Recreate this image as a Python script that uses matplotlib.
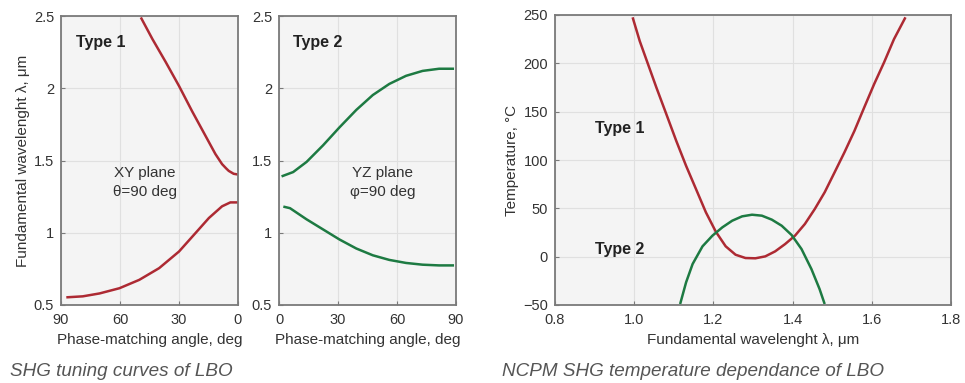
import matplotlib
matplotlib.use("Agg")
import matplotlib.pyplot as plt

plt.rcParams['font.family'] = ['Liberation Sans', 'DejaVu Sans']

# ---- Panel 1: Type 1, XY plane (angle in deg, wavelength in um)
t1_upper_deg = [49.4, 43.5, 36.7, 30.0, 23.3, 16.5, 13.5, 11.5, 8.1, 6.0, 4.7, 2.2, 0.0]
t1_upper_wl = [2.49, 2.34, 2.18, 2.016, 1.84, 1.67, 1.595, 1.545, 1.475, 1.445, 1.428, 1.408, 1.403]
t1_lower_deg = [87.3, 78.9, 70.4, 60.3, 50.2, 40.1, 30.0, 21.6, 14.8, 8.1, 3.9, 0.0]
t1_lower_wl = [0.553, 0.56, 0.58, 0.616, 0.674, 0.755, 0.87, 0.998, 1.102, 1.183, 1.21, 1.21]

# ---- Panel 2: Type 2, YZ plane
t2_upper_deg = [1.3, 7.2, 14.0, 22.4, 30.8, 39.3, 47.7, 56.1, 64.6, 73.0, 81.4, 89.0]
t2_upper_wl = [1.39, 1.42, 1.49, 1.605, 1.73, 1.85, 1.953, 2.03, 2.086, 2.12, 2.135, 2.135]
t2_lower_deg = [2.2, 5.6, 14.0, 22.4, 30.8, 39.3, 47.7, 56.1, 64.6, 73.0, 81.4, 89.0]
t2_lower_wl = [1.181, 1.17, 1.093, 1.023, 0.953, 0.891, 0.844, 0.812, 0.791, 0.779, 0.774, 0.774]

# ---- Panel 3: NCPM temperature vs wavelength
ncpm1_wl = [0.996, 1.014, 1.035, 1.056, 1.081, 1.106, 1.131, 1.156, 1.181, 1.206, 1.231,
            1.256, 1.281, 1.306, 1.331, 1.356, 1.381, 1.406, 1.431, 1.456, 1.481, 1.506,
            1.531, 1.556, 1.581, 1.606, 1.631, 1.656, 1.685]
ncpm1_T = [247.6, 223, 199, 175, 147.6, 120, 94, 70, 45.9, 25.9, 10.7,
           2.0, -1.4, -1.7, 0.3, 5.5, 13, 21.7, 33.8, 49.3, 66.6, 87.2,
           108, 130, 154.5, 178.6, 201, 225, 247.6]
ncpm2_wl = [1.116, 1.131, 1.1475, 1.1725, 1.1975, 1.2225, 1.2475, 1.2725, 1.2975, 1.3225,
            1.3475, 1.3725, 1.3975, 1.4225, 1.4475, 1.468, 1.481]
ncpm2_T = [-49, -26.6, -7.6, 10.7, 21.7, 30.3, 37.2, 41.7, 43.4, 42.4,
           38.3, 32, 22.4, 7.9, -12.8, -33.4, -49]

angle_ticks_1 = [90, 60, 30, 0]
angle_ticks_2 = [0, 30, 60, 90]
wl_ticks = [0.5, 1, 1.5, 2, 2.5]
wl_ticklabels = ['0.5', '1', '1.5', '2', '2.5']
ncpm_xticks = [0.8, 1.0, 1.2, 1.4, 1.6, 1.8]
ncpm_yticks = [-50, 0, 50, 100, 150, 200, 250]

RED = '#ad2a33'
GREEN = '#1d7a42'
BG = '#f4f4f4'
SPINE = '#7a7a7a'
GRID = '#e0e0e0'
TXT = '#333333'

W, H = 965, 383
fig = plt.figure(figsize=(W / 100, H / 100), dpi=100)


def box(l, t, r, b):
    return [l / W, 1 - b / H, (r - l) / W, (b - t) / H]


def style(ax):
    ax.set_facecolor(BG)
    for s in ax.spines.values():
        s.set_color(SPINE)
        s.set_linewidth(1.3)
    ax.tick_params(direction='in', length=3, width=0.8, color=SPINE,
                   labelsize=10.5, labelcolor=TXT)
    ax.tick_params(axis='x', pad=6)
    ax.tick_params(axis='y', pad=5)
    ax.grid(True, color=GRID, linewidth=0.8)
    ax.set_axisbelow(True)


ax1 = fig.add_axes(box(61, 16, 238, 305))
ax2 = fig.add_axes(box(279, 16, 456, 305))
ax3 = fig.add_axes(box(555, 15, 951, 305))
for ax in (ax1, ax2, ax3):
    style(ax)

lw = 1.8
ax1.plot(t1_upper_deg, t1_upper_wl, color=RED, lw=lw, solid_capstyle='butt')
ax1.plot(t1_lower_deg, t1_lower_wl, color=RED, lw=lw, solid_capstyle='butt')
ax1.set_xlim(90, 0)
ax1.set_ylim(0.5, 2.5)
ax1.set_xticks(angle_ticks_1)
ax1.set_yticks(wl_ticks)
ax1.set_yticklabels(wl_ticklabels)
ax1.set_xlabel('Phase-matching angle, deg', fontsize=11, color=TXT, labelpad=4)
ax1.set_ylabel('Fundamental wavelenght λ, μm', fontsize=11, color=TXT, labelpad=3)
ax1.text(0.083, 0.91, 'Type 1', transform=ax1.transAxes, fontsize=11.5,
         fontweight='bold', color='#222222', va='center', ha='left')
ax1.text(0.475, 0.457, 'XY plane', transform=ax1.transAxes, fontsize=11,
         color=TXT, va='center', ha='center')
ax1.text(0.475, 0.39, 'θ=90 deg', transform=ax1.transAxes, fontsize=11,
         color=TXT, va='center', ha='center')

ax2.plot(t2_upper_deg, t2_upper_wl, color=GREEN, lw=lw, solid_capstyle='butt')
ax2.plot(t2_lower_deg, t2_lower_wl, color=GREEN, lw=lw, solid_capstyle='butt')
ax2.set_xlim(0, 90)
ax2.set_ylim(0.5, 2.5)
ax2.set_xticks(angle_ticks_2)
ax2.set_yticks(wl_ticks)
ax2.set_yticklabels(wl_ticklabels)
ax2.set_xlabel('Phase-matching angle, deg', fontsize=11, color=TXT, labelpad=4)
ax2.text(0.079, 0.91, 'Type 2', transform=ax2.transAxes, fontsize=11.5,
         fontweight='bold', color='#222222', va='center', ha='left')
ax2.text(0.584, 0.457, 'YZ plane', transform=ax2.transAxes, fontsize=11,
         color=TXT, va='center', ha='center')
ax2.text(0.584, 0.39, 'φ=90 deg', transform=ax2.transAxes, fontsize=11,
         color=TXT, va='center', ha='center')

ax3.plot(ncpm1_wl, ncpm1_T, color=RED, lw=lw, solid_capstyle='butt')
ax3.plot(ncpm2_wl, ncpm2_T, color=GREEN, lw=lw, solid_capstyle='butt')
ax3.set_xlim(0.8, 1.8)
ax3.set_ylim(-50, 250)
ax3.set_xticks(ncpm_xticks)
ax3.set_xticklabels([f'{v:.1f}' for v in ncpm_xticks])
ax3.set_yticks(ncpm_yticks)
ax3.set_xlabel('Fundamental wavelenght λ, μm', fontsize=11, color=TXT, labelpad=4)
ax3.set_ylabel('Temperature, °C', fontsize=11, color=TXT, labelpad=3)
ax3.text(0.101, 0.61, 'Type 1', transform=ax3.transAxes, fontsize=11.5,
         fontweight='bold', color='#222222', va='center', ha='left')
ax3.text(0.101, 0.19, 'Type 2', transform=ax3.transAxes, fontsize=11.5,
         fontweight='bold', color='#222222', va='center', ha='left')

fig.text(10 / W, 1 - 372 / H, 'SHG tuning curves of LBO', fontsize=13.6,
         style='italic', color='#555555', va='center', ha='left')
fig.text(502 / W, 1 - 372 / H, 'NCPM SHG temperature dependance of LBO', fontsize=13.6,
         style='italic', color='#555555', va='center', ha='left')

fig.savefig('out.png', dpi=100)
